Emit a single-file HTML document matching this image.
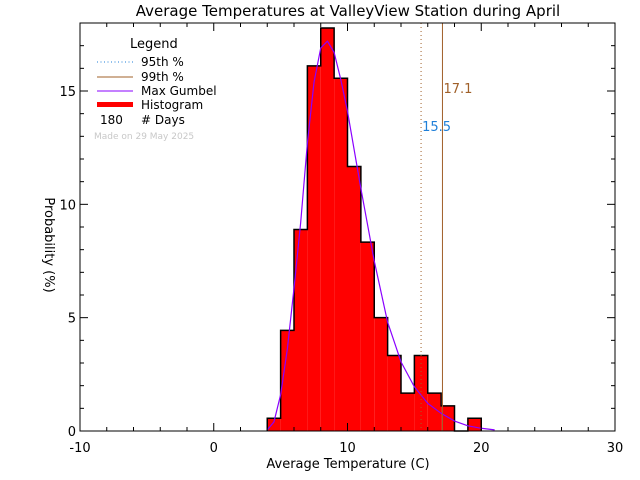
<!DOCTYPE html>
<html><head><meta charset="utf-8"><style>
html,body{margin:0;padding:0;background:#fff;}
svg{display:block;font-family:"DejaVu Sans","Liberation Sans",sans-serif;}
</style></head><body>
<svg id="chart" width="640" height="480" viewBox="0 0 640 480" xmlns="http://www.w3.org/2000/svg">
<text x="348" y="16" text-anchor="middle" font-size="15">Average Temperatures at ValleyView Station during April</text>
<g id="plot"></g>
<text x="348" y="468" text-anchor="middle" font-size="13">Average Temperature (C)</text>
<text transform="translate(45,245) rotate(90)" text-anchor="middle" font-size="13">Probability (%)</text>
<g font-size="12">
  <text x="130" y="48" font-size="13">Legend</text>
  <line x1="97" y1="62" x2="133" y2="62" stroke="#1f7fd8" stroke-dasharray="1,2.5"/>
  <text x="141" y="66">95th %</text>
  <line x1="97" y1="77" x2="133" y2="77" stroke="#a0602a"/>
  <text x="141" y="81">99th %</text>
  <line x1="97" y1="91" x2="133" y2="91" stroke="#8a00ff"/>
  <text x="141" y="95">Max Gumbel</text>
  <rect x="97" y="102" width="36" height="5" fill="#ff0000"/>
  <text x="141" y="109">Histogram</text>
  <text x="100" y="124">180</text>
  <text x="141" y="124"># Days</text>
  <text x="94" y="139" font-size="9" fill="#c8c8c8">Made on 29 May 2025</text>
</g>
</svg>
<script>
const binStarts = [4,5,6,7,8,9,10,11,12,13,14,15,16,17,18,19];
const binValues = [0.56,4.44,8.89,16.11,17.78,15.56,11.67,8.33,5.0,3.33,1.67,3.33,1.67,1.11,0,0.56];
const gumbelX = [4,4.5,5,5.5,6,6.5,7,7.5,8,8.5,9,9.5,10,11,12,13,14,15,16,17,18,19,20,21];
const gumbelY = [0.05,0.4,1.6,3.6,6.3,9.2,12.7,15.4,16.9,17.2,16.7,15.5,14.1,10.7,7.5,4.8,3.05,1.95,1.22,0.78,0.44,0.23,0.12,0.05];
const xTicks = [-10,0,10,20,30];
const yTicks = [0,5,10,15];
const p95 = 15.5, p99 = 17.1;
const binWidth = 1;

const L=80,R=615,T=23,B=431,XMIN=-10,XMAX=30,YMIN=0,YMAX=18;
const sx=v=>L+(v-XMIN)/(XMAX-XMIN)*(R-L);
const sy=v=>B-(v-YMIN)/(YMAX-YMIN)*(B-T);
const NS='http://www.w3.org/2000/svg';
const g=document.getElementById('plot');
function mk(tag,attrs){const e=document.createElementNS(NS,tag);for(const k in attrs)e.setAttribute(k,attrs[k]);g.appendChild(e);return e;}

// bars
binStarts.forEach((s,i)=>{
  if(binValues[i]<=0) return;
  const r=mk('rect',{x:sx(s),y:sy(binValues[i]),width:sx(s+binWidth)-sx(s),height:B-sy(binValues[i]),fill:'#ff0000'});
  
  
});
// outline step
let d='M'+sx(binStarts[0])+','+B;
binStarts.forEach((s,i)=>{d+=' L'+sx(s)+','+sy(binValues[i])+' L'+sx(s+binWidth)+','+sy(binValues[i]);});
d+=' L'+sx(binStarts[binStarts.length-1]+binWidth)+','+B;
const o=mk('path',{d:d,fill:'none',stroke:'#000','stroke-width':1.5});


// gumbel
const gp=mk('polyline',{points:gumbelX.map((x,i)=>sx(x)+','+sy(gumbelY[i])).join(' '),fill:'none',stroke:'#8a00ff','stroke-width':1.2,'stroke-linejoin':'round'});


// percentile lines
const l95=mk('line',{x1:sx(p95),y1:T,x2:sx(p95),y2:B,stroke:'#a0602a','stroke-dasharray':'1,3'});


const l99=mk('line',{x1:sx(p99),y1:T,x2:sx(p99),y2:B,stroke:'#a0602a'});


const t95=mk('text',{x:sx(p95)+1,y:131,'font-size':13,fill:'#1f7fd8'});t95.textContent=String(p95);


const t99=mk('text',{x:sx(p99)+1,y:93,'font-size':13,fill:'#a0602a'});t99.textContent=String(p99);


// axes box
const box=mk('rect',{x:L,y:T,width:R-L,height:B-T,fill:'none',stroke:'#000','stroke-width':1});


// x ticks
for(let v=XMIN;v<=XMAX;v+=2){
  const maj=xTicks.includes(v);const len=maj?8:4;
  const a=mk('line',{x1:sx(v),y1:B,x2:sx(v),y2:B-len,stroke:'#000'});
  
  
  const b=mk('line',{x1:sx(v),y1:T,x2:sx(v),y2:T+len,stroke:'#000'});
  
  
}
xTicks.forEach(v=>{const t=mk('text',{x:sx(v),y:452,'text-anchor':'middle','font-size':13});t.textContent=String(v);
  
  });
// y ticks
for(let v=YMIN;v<=YMAX;v+=1){
  const maj=yTicks.includes(v);const len=maj?8:4;
  const a=mk('line',{x1:L,y1:sy(v),x2:L+len,y2:sy(v),stroke:'#000'});
  
  
  const b=mk('line',{x1:R,y1:sy(v),x2:R-len,y2:sy(v),stroke:'#000'});
  
  
}
yTicks.forEach(v=>{const t=mk('text',{x:L-4,y:sy(v)+5,'text-anchor':'end','font-size':13});t.textContent=String(v);
  
  });
</script>
</body></html>
